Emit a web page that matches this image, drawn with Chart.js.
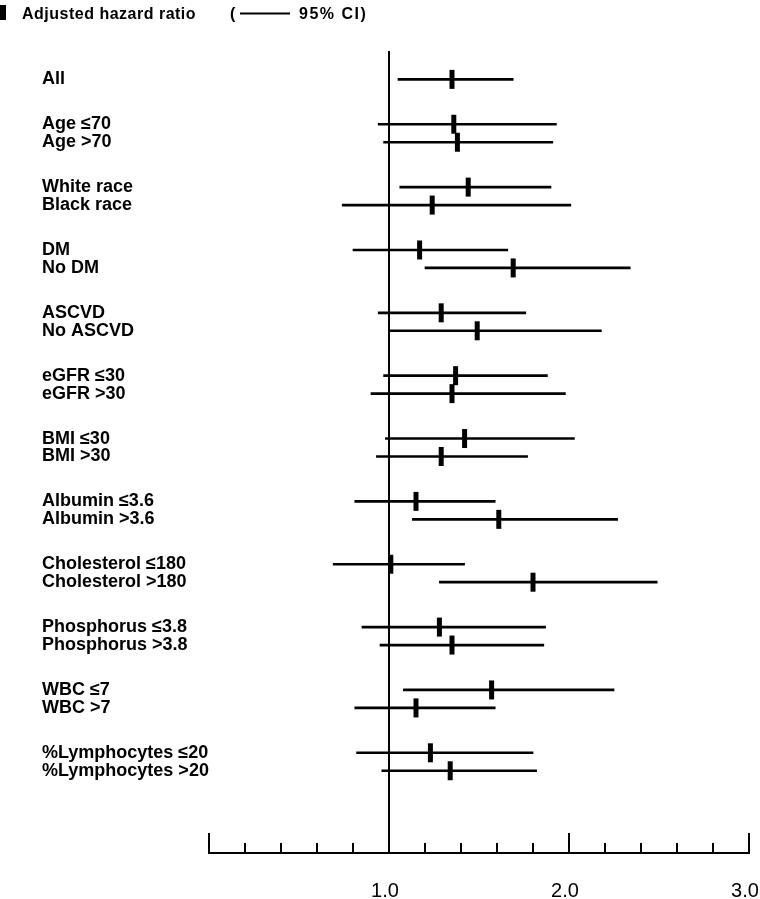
<!DOCTYPE html>
<html>
<head>
<meta charset="utf-8">
<title>Adjusted hazard ratio by subgroup</title>
<script src="https://cdn.jsdelivr.net/npm/chart.js@4.4.0/dist/chart.umd.min.js"></script>
<style>
  html, body { margin: 0; padding: 0; background: #fff; }
  #wrap { width: 760px; height: 899px; position: relative; }
</style>
</head>
<body>
<div id="wrap"><canvas id="forestChart"></canvas></div>
<script>
// subgroups, one inner list per block of rows
const subgroups = [
    ['All'],
    ['Age ≤70', 'Age >70'],
    ['White race', 'Black race'],
    ['DM', 'No DM'],
    ['ASCVD', 'No ASCVD'],
    ['eGFR ≤30', 'eGFR >30'],
    ['BMI ≤30', 'BMI >30'],
    ['Albumin ≤3.6', 'Albumin >3.6'],
    ['Cholesterol ≤180', 'Cholesterol >180'],
    ['Phosphorus ≤3.8', 'Phosphorus >3.8'],
    ['WBC ≤7', 'WBC >7'],
    ['%Lymphocytes ≤20', '%Lymphocytes >20']
];

// adjusted hazard ratio and 95% CI, same order as the rows above
const hazardRatio = [1.35, 1.36, 1.38, 1.44, 1.24, 1.17, 1.69, 1.29, 1.49, 1.37, 1.35,
                     1.42, 1.29, 1.15, 1.61, 1.01, 1.80, 1.28, 1.35, 1.57, 1.15, 1.23, 1.34];
const ciLower = [1.05, 0.94, 0.97, 1.06, 0.74, 0.80, 1.20, 0.94, 1.00, 0.97, 0.90,
                 0.98, 0.93, 0.81, 1.13, 0.69, 1.28, 0.85, 0.95, 1.08, 0.81, 0.82, 0.96];
const ciUpper = [1.69, 1.93, 1.91, 1.90, 2.01, 1.66, 2.34, 1.76, 2.18, 1.88, 1.98,
                 2.03, 1.77, 1.59, 2.27, 1.42, 2.49, 1.87, 1.86, 2.25, 1.59, 1.80, 1.82];

const tickLabels = ['1.0', '2.0', '3.0'];

// flatten rows; rows inside a block sit one step apart, blocks 2.5 steps apart
const rowLabels = [];
const rowPos = [];
subgroups.forEach((group, gi) => {
    group.forEach((name, mi) => {
        rowLabels.push(name);
        rowPos.push(gi === 0 ? 0 : 2.5 + (gi - 1) * 3.5 + mi);
    });
});

// ticks on the x axis point upward from the baseline
const axisTicks = {
    id: 'axisTicks',
    afterDatasetsDraw(chart) {
        const ctx = chart.ctx;
        const xs = chart.scales.x;
        const base = chart.chartArea.bottom;
        ctx.save();
        ctx.strokeStyle = '#000';
        ctx.lineWidth = 2;
        xs.ticks.forEach(t => {
            if (Math.abs(t.value - 1) < 1e-6) return; // reference line already drawn
            const px = Math.round(xs.getPixelForValue(t.value));
            const major = Math.abs(t.value - Math.round(t.value)) < 1e-6;
            const len = major ? 20 : 10;
            ctx.beginPath();
            ctx.moveTo(px, base);
            ctx.lineTo(px, base - len);
            ctx.stroke();
        });
        ctx.restore();
    }
};

// legend line at the top: marker, text, CI sample line
const headerLegend = {
    id: 'headerLegend',
    afterDraw(chart) {
        const ctx = chart.ctx;
        ctx.save();
        ctx.fillStyle = '#000';
        ctx.fillRect(0, 5, 6, 15);
        ctx.font = 'bold 16px "Liberation Sans", Arial, sans-serif';
        ctx.textBaseline = 'alphabetic';
        ctx.letterSpacing = '0.5px';
        ctx.fillText('Adjusted hazard ratio', 22, 19);
        ctx.fillText('(', 230, 19);
        ctx.letterSpacing = '1.5px';
        ctx.fillText('95% CI)', 299, 19);
        ctx.strokeStyle = '#000';
        ctx.lineWidth = 2;
        ctx.beginPath();
        ctx.moveTo(240, 13.5);
        ctx.lineTo(290, 13.5);
        ctx.stroke();
        ctx.restore();
    }
};

const forestCtx = document.getElementById('forestChart');
new Chart(forestCtx, {
    type: 'scatter',
    data: {
        datasets: [{
            type: 'bar',
            indexAxis: 'y',
            data: rowPos.map((p, i) => ({ y: p, x: [ciLower[i], ciUpper[i]] })),
            backgroundColor: '#000',
            borderWidth: 0,
            barThickness: 2,
            order: 2
        }, {
            type: 'scatter',
            data: rowPos.map((p, i) => ({ x: hazardRatio[i], y: p })),
            pointStyle: 'line',
            rotation: 90,
            radius: 9.5,
            borderWidth: 5,
            borderColor: '#000',
            backgroundColor: '#000',
            order: 1
        }]
    },
    options: {
        responsive: true,
        maintainAspectRatio: false,
        animation: false,
        events: [],
        layout: {
            autoPadding: false,
            padding: { top: 51, left: 42, right: 11, bottom: 0 }
        },
        plugins: {
            legend: { display: false },
            tooltip: { enabled: false }
        },
        scales: {
            x: {
                type: 'linear',
                position: 'bottom',
                min: 0,
                max: 3,
                offset: false,
                border: { display: true, color: '#000', width: 2 },
                grid: {
                    offset: false,
                    drawTicks: false,
                    lineWidth: 2,
                    color: c => (c.tick && Math.abs(c.tick.value - 1) < 1e-6) ? '#000' : 'rgba(0,0,0,0)'
                },
                ticks: {
                    stepSize: 0.2,
                    autoSkip: false,
                    maxRotation: 0,
                    padding: 26,
                    labelOffset: -4,
                    color: '#000',
                    font: { family: '"Liberation Sans", Arial, sans-serif', size: 20 },
                    callback: v => {
                        const r = Math.round(v);
                        return (Math.abs(v - r) < 1e-6 && r >= 1) ? tickLabels[r - 1] : '';
                    }
                },
                afterFit: s => { s.height = 46; s.paddingLeft = 0; s.paddingRight = 0; }
            },
            y: {
                type: 'linear',
                position: 'left',
                reverse: true,
                offset: false,
                min: -1.58,
                max: 43.08,
                border: { display: false },
                grid: { display: false, offset: false },
                afterBuildTicks: s => { s.ticks = rowPos.map(v => ({ value: v })); },
                ticks: {
                    crossAlign: 'far',
                    padding: 0,
                    color: '#000',
                    font: { family: '"Liberation Sans", Arial, sans-serif', size: 18, weight: 'bold' },
                    callback: (v, i) => rowLabels[i]
                },
                afterFit: s => { s.width = 167; s.paddingTop = 0; s.paddingBottom = 0; }
            }
        }
    },
    plugins: [axisTicks, headerLegend]
});
</script>
</body>
</html>
